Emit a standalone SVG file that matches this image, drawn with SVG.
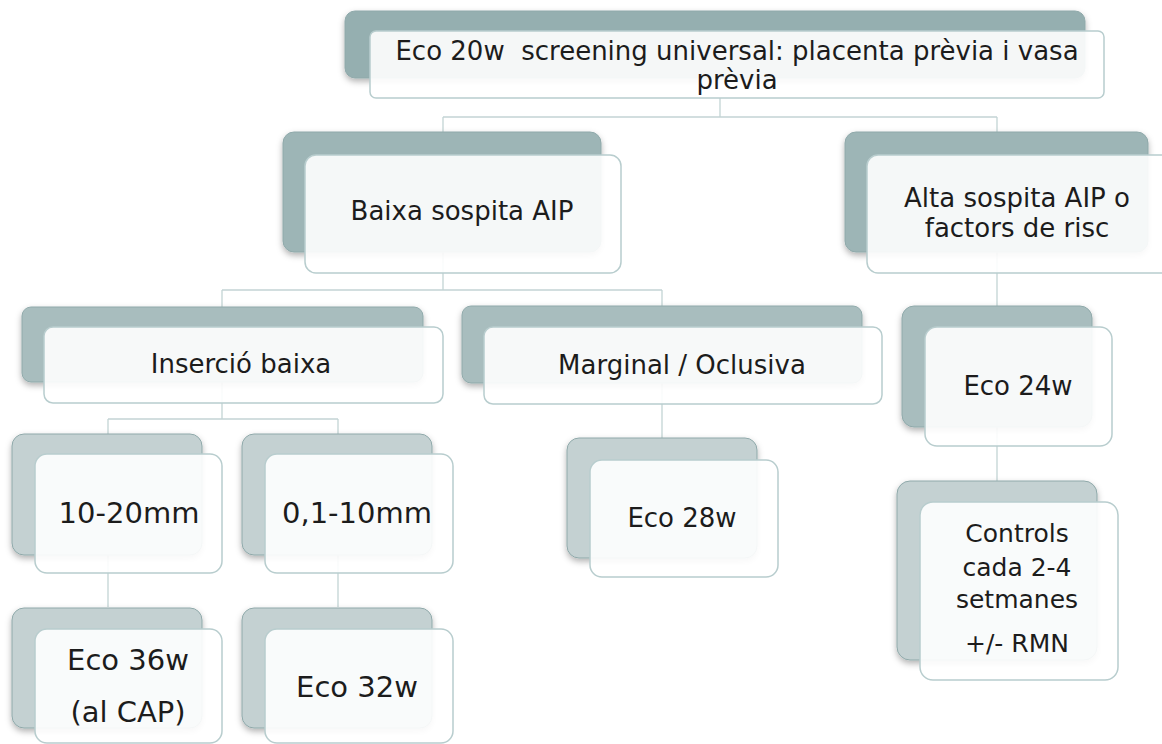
<svg xmlns="http://www.w3.org/2000/svg" width="1162" height="744" viewBox="0 0 1162 744">
<defs>
<filter id="sh" x="-10%" y="-10%" width="120%" height="130%">
<feDropShadow dx="0" dy="3" stdDeviation="3" flood-color="#000" flood-opacity="0.3"/>
</filter>
<style>
.back{stroke:#8fa9aa;stroke-width:1;filter:url(#sh)}
.l1{fill:#95afb0}
.l2{fill:#9db5b6}
.l3{fill:#a8bdbe}
.l4{fill:#c4d1d2}
.front{fill:#ffffff;fill-opacity:0.9;stroke:#b8cdce;stroke-width:1.5}
.t{font-family:"DejaVu Sans",sans-serif;fill:#1c1c1c;text-anchor:middle;font-size:26px}
.big{font-size:29px}
.sm{font-size:25px}
.conn{fill:none;stroke:#c3d4d5;stroke-width:1.3}
</style>
</defs>
<rect width="1162" height="744" fill="#ffffff"/>
<g id="connectors">
<path class="conn" d="M720,98 V117 M443,117 H997 M443,117 V290 M997,117 V482 M222,290 H662 M222,290 V419 M662,290 V438 M108,419 H338 M108,419 V607 M338,419 V607"/>
</g>
<g id="n-top">
<rect class="back l1" x="345" y="11" width="740" height="67" rx="10"/>
<rect class="front" x="370" y="31" width="734" height="67" rx="6"/>
<text class="t" x="737" y="60" xml:space="preserve">Eco 20w  screening universal: placenta prèvia i vasa</text>
<text class="t" x="737" y="89">prèvia</text>
</g>
<g id="n-baixa">
<rect class="back l2" x="283" y="132" width="318" height="120" rx="11"/>
<rect class="front" x="305" y="155" width="316" height="118" rx="11"/>
<text class="t" x="462" y="220">Baixa sospita AIP</text>
</g>
<g id="n-alta">
<rect class="back l2" x="845" y="132" width="303" height="120" rx="11"/>
<rect class="front" x="867" y="155" width="316" height="118" rx="11"/>
<text class="t" x="1017" y="207">Alta sospita AIP o</text>
<text class="t" x="1017" y="237">factors de risc</text>
</g>
<g id="n-insercio">
<rect class="back l3" x="22" y="307" width="401" height="75" rx="9"/>
<rect class="front" x="44" y="327" width="399" height="76" rx="9"/>
<text class="t" x="241" y="373">Inserció baixa</text>
</g>
<g id="n-marginal">
<rect class="back l3" x="462" y="306" width="400" height="77" rx="9"/>
<rect class="front" x="484" y="327" width="398" height="77" rx="9"/>
<text class="t" x="682" y="374">Marginal / Oclusiva</text>
</g>
<g id="n-eco24">
<rect class="back l3" x="902" y="306" width="190" height="121" rx="12"/>
<rect class="front" x="925" y="327" width="187" height="119" rx="12"/>
<text class="t" x="1018" y="395">Eco 24w</text>
</g>
<g id="n-eco28">
<rect class="back l4" x="567" y="438" width="190" height="120" rx="12"/>
<rect class="front" x="590" y="460" width="188" height="117" rx="12"/>
<text class="t" x="682" y="527">Eco 28w</text>
</g>
<g id="n-controls">
<rect class="back l4" x="897" y="481" width="200" height="179" rx="13"/>
<rect class="front" x="920" y="502" width="198" height="178" rx="13"/>
<text class="t sm" x="1017" y="542">Controls</text>
<text class="t sm" x="1017" y="576">cada 2-4</text>
<text class="t sm" x="1017" y="608">setmanes</text>
<text class="t sm" x="1017" y="652">+/- RMN</text>
</g>
<g id="n-1020">
<rect class="back l4" x="12" y="434" width="190" height="121" rx="12"/>
<rect class="front" x="35" y="454" width="187" height="119" rx="12"/>
<text class="t big" x="129" y="523">10-20mm</text>
</g>
<g id="n-0110">
<rect class="back l4" x="242" y="434" width="190" height="121" rx="12"/>
<rect class="front" x="265" y="454" width="188" height="119" rx="12"/>
<text class="t big" x="357" y="523">0,1-10mm</text>
</g>
<g id="n-eco36">
<rect class="back l4" x="12" y="608" width="190" height="120" rx="12"/>
<rect class="front" x="35" y="629" width="187" height="114" rx="12"/>
<text class="t big" x="128" y="670">Eco 36w</text>
<text class="t big" x="128" y="722">(al CAP)</text>
</g>
<g id="n-eco32">
<rect class="back l4" x="242" y="608" width="190" height="120" rx="12"/>
<rect class="front" x="265" y="629" width="188" height="114" rx="12"/>
<text class="t big" x="357" y="697">Eco 32w</text>
</g>
</svg>
